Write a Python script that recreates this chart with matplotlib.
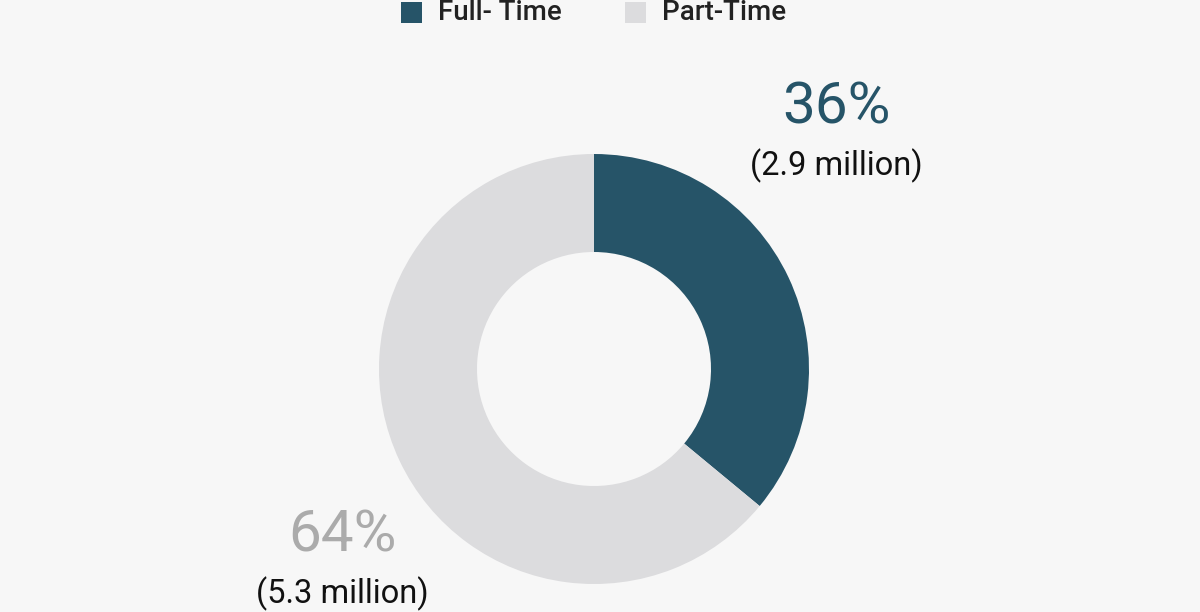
import matplotlib.pyplot as plt
from matplotlib.patches import Rectangle

# --- Data ---
categories = ['Full- Time', 'Part-Time']
shares = [36, 64]
counts = ['2.9 million', '5.3 million']
colors = ['#265468', '#dcdcde']
label_colors = ['#265468', '#ababab']

plt.rcParams['font.family'] = ['Roboto', 'DejaVu Sans']

fig = plt.figure(figsize=(12, 6.12), dpi=100)
fig.patch.set_facecolor('#f7f7f7')
ax = fig.add_axes([0, 0, 1, 1])

# donut, centre and radius in pixel space (y measured from the bottom)
cx, cy, r_out, r_in = 594, 612 - 369, 215, 117
ax.pie(shares, colors=colors, startangle=90, counterclock=False,
       center=(cx, cy), radius=r_out, frame=True,
       wedgeprops=dict(width=r_out - r_in, linewidth=0))
ax.set_xlim(0, 1200)
ax.set_ylim(0, 612)
ax.set_aspect('equal')
ax.axis('off')

# value labels
label_pos = [(836, 612 - 108), (342, 612 - 536)]
for (x, y), pct, cnt, col in zip(label_pos, shares, counts, label_colors):
    ax.text(x, y, f'{pct}%', color=col, fontsize=42, ha='center', va='center')
    ax.text(x, y - 58, f'({cnt})', color='#111111', fontsize=23.5,
            ha='center', va='center')

# legend drawn by hand
legend_x = [401, 625]
for lx, cat, col in zip(legend_x, categories, colors):
    ax.add_patch(Rectangle((lx, 612 - 23), 21, 21, color=col, lw=0))
    ax.text(lx + 37, 612 - 12.5, cat, color='#222222', fontsize=20,
            fontweight='medium', ha='left', va='center')

fig.savefig('out.png', dpi=100, facecolor=fig.get_facecolor())
